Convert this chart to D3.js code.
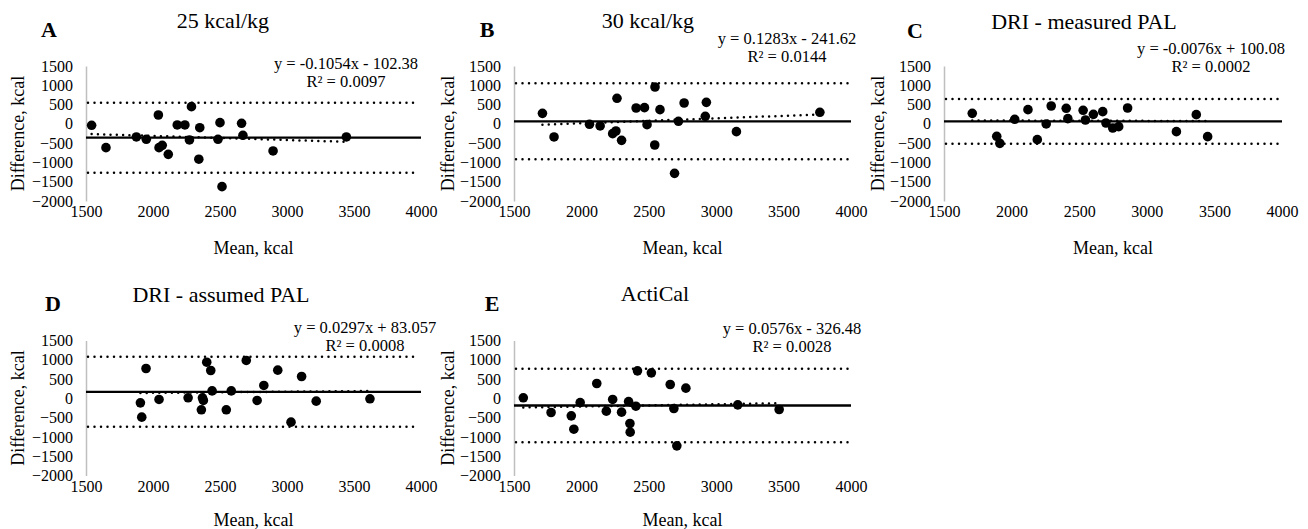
<!DOCTYPE html>
<html>
<head>
<meta charset="utf-8">
<script src="https://cdn.jsdelivr.net/npm/d3@7"></script>
<style>
  html, body { margin: 0; padding: 0; background: #fff; }
  svg { display: block; }
</style>
</head>
<body>
<svg id="chart" width="1308" height="529"></svg>
<script>
// ---------- DATA ----------
const panelLetters = ["A", "B", "C", "D", "E"];
const panelTitles = ["25 kcal/kg", "30 kcal/kg", "DRI - measured PAL", "DRI - assumed PAL", "ActiCal"];
const equations = ["y = -0.1054x - 102.38", "y = 0.1283x - 241.62", "y = -0.0076x + 100.08", "y = 0.0297x + 83.057", "y = 0.0576x - 326.48"];
const rSquared = ["R\u00B2 = 0.0097", "R\u00B2 = 0.0144", "R\u00B2 = 0.0002", "R\u00B2 = 0.0008", "R\u00B2 = 0.0028"];
const slopes = [-0.1054, 0.1283, -0.0076, 0.0297, 0.0576];
const intercepts = [-102.38, -241.62, 100.08, 83.057, -326.48];
const bias = [-358, 66, 66, 170, -185];
const upperLoA = [550, 1051, 645, 1077, 766];
const lowerLoA = [-1266, -919, -513, -737, -1135];

const xTicks = [1500, 2000, 2500, 3000, 3500, 4000];
const yTicks = [1500, 1000, 500, 0, -500, -1000, -1500, -2000];
const xLabel = "Mean, kcal";
const yLabel = "Difference, kcal";

const meanA = [1542, 1649, 1876, 1950, 2040, 2045, 2069, 2114, 2181, 2238, 2287, 2272, 2349, 2342, 2485, 2500, 2515, 2661, 2671, 2896, 3443];
const diffA = [-38, -617, -340, -401, 230, -617, -557, -790, -29, -29, 446, -418, -99, -917, -401, 31, -1628, 14, -297, -703, -340];

const meanB = [1711, 1797, 2060, 2139, 2232, 2256, 2264, 2298, 2406, 2468, 2487, 2544, 2546, 2583, 2691, 2720, 2762, 2919, 2927, 3150, 3769];
const diffB = [273, -340, -12, -55, -254, -185, 662, -427, 411, 420, -21, -548, 956, 368, -1283, 66, 541, 195, 558, -202, 299];

const meanC = [1709, 1890, 1913, 2023, 2121, 2190, 2256, 2293, 2404, 2416, 2529, 2546, 2605, 2674, 2698, 2748, 2792, 2858, 3219, 3366, 3450];
const diffC = [273, -323, -505, 118, 368, -410, -3, 463, 403, 135, 351, 100, 247, 316, 22, -107, -73, 411, -202, 239, -332];

const meanD = [1906, 1916, 1948, 2045, 2262, 2361, 2369, 2376, 2401, 2431, 2441, 2547, 2584, 2696, 2777, 2827, 2931, 3030, 3109, 3218, 3619];
const diffD = [-116, -487, 774, -29, 14, -297, 14, -55, 938, 722, 195, -297, 195, 982, -55, 334, 731, -617, 567, -73, -12];

const meanE = [1569, 1775, 1925, 1944, 1991, 2114, 2185, 2232, 2298, 2350, 2360, 2362, 2404, 2416, 2519, 2659, 2686, 2708, 2775, 3160, 3467];
const diffE = [14, -367, -453, -799, -108, 385, -332, -29, -358, -82, -652, -877, -203, 713, 661, 359, -263, -1231, 264, -168, -289];

const panelMeans = [meanA, meanB, meanC, meanD, meanE];
const panelDiffs = [diffA, diffB, diffC, diffD, diffE];

// ---------- LAYOUT ----------
const FONT = "Liberation Serif";
const layout = [
  { x0: 86,  x1: 421, yTop: 66,  titleX: 223, titleY: 28,  letterX: 49,  letterY: 37,  eqX: 346, eqY: 69,  ylabX: 18,  xlabY: 254 },
  { x0: 514, x1: 851, yTop: 66,  titleX: 648, titleY: 28,  letterX: 487, letterY: 37,  eqX: 787, eqY: 44,  ylabX: 448, xlabY: 254 },
  { x0: 944, x1: 1282, yTop: 66, titleX: 1084, titleY: 29, letterX: 915, letterY: 38,  eqX: 1211, eqY: 54, ylabX: 878, xlabY: 254 },
  { x0: 86,  x1: 421, yTop: 340.5, titleX: 221, titleY: 302, letterX: 53, letterY: 311, eqX: 365, eqY: 333, ylabX: 18, xlabY: 526 },
  { x0: 514, x1: 851, yTop: 340.5, titleX: 655, titleY: 301, letterX: 492, letterY: 311, eqX: 792, eqY: 334, ylabX: 448, xlabY: 526 }
];
const plotH = 135;

const svg = d3.select("#chart");

function styleText(sel, size, weight) {
  sel.attr("font-family", null)
     .style("font-family", FONT)
     .style("font-size", size + "px")
     .style("font-weight", weight || "normal")
     .style("fill", "#000");
  return sel;
}

panelLetters.forEach((letter, i) => {
  const L = layout[i];
  const g = svg.append("g");
  const x = d3.scaleLinear().domain([1500, 4000]).range([L.x0, L.x1]);
  const y = d3.scaleLinear().domain([-2000, 1500]).range([L.yTop + plotH, L.yTop]);

  // y axis
  const ya = g.append("g").attr("transform", `translate(${L.x0},0)`)
    .call(d3.axisLeft(y).tickValues(yTicks).tickSize(0).tickPadding(13).tickFormat(d3.format("d")));
  ya.attr("font-family", null).attr("font-size", null);
  ya.select(".domain").attr("stroke", "#bfbfbf").attr("stroke-width", 1.5);
  styleText(ya.selectAll("text"), 16);

  // x axis (no line)
  const xa = g.append("g").attr("transform", `translate(0,${y(-2000)})`)
    .call(d3.axisBottom(x).tickValues(xTicks).tickSize(0).tickPadding(5).tickFormat(d3.format("d")));
  xa.attr("font-family", null).attr("font-size", null);
  xa.select(".domain").remove();
  styleText(xa.selectAll("text"), 16);

  // limits of agreement (dotted)
  [upperLoA[i], lowerLoA[i]].forEach(v => {
    g.append("line")
      .attr("x1", x(1500) + 2).attr("x2", x(3985))
      .attr("y1", y(v)).attr("y2", y(v))
      .attr("stroke", "#000").attr("stroke-width", 2.5)
      .attr("stroke-linecap", "round").attr("stroke-dasharray", "0,6.5");
  });

  // bias (solid)
  g.append("line")
    .attr("x1", x(1500)).attr("x2", x(4000))
    .attr("y1", y(bias[i])).attr("y2", y(bias[i]))
    .attr("stroke", "#000").attr("stroke-width", 2.3);

  // trend line (dotted)
  const xs = panelMeans[i];
  const xmin = d3.min(xs), xmax = d3.max(xs);
  g.append("line")
    .attr("x1", x(xmin)).attr("x2", x(xmax))
    .attr("y1", y(slopes[i] * xmin + intercepts[i]))
    .attr("y2", y(slopes[i] * xmax + intercepts[i]))
    .attr("stroke", "#000").attr("stroke-width", 2.5)
    .attr("stroke-linecap", "round").attr("stroke-dasharray", "0,6.3");

  // points
  g.selectAll("circle.pt").data(xs.map((m, k) => [m, panelDiffs[i][k]]))
    .join("circle").attr("class", "pt")
    .attr("cx", d => x(d[0])).attr("cy", d => y(d[1]))
    .attr("r", 4.8).attr("fill", "#000");

  // titles
  styleText(g.append("text").attr("x", L.titleX).attr("y", L.titleY)
    .attr("text-anchor", "middle").text(panelTitles[i]), 22);
  styleText(g.append("text").attr("x", L.letterX).attr("y", L.letterY)
    .attr("text-anchor", "middle").text(letter), 22, "bold");

  // equation
  styleText(g.append("text").attr("x", L.eqX).attr("y", L.eqY)
    .attr("text-anchor", "middle").text(equations[i]), 16.5);
  styleText(g.append("text").attr("x", L.eqX).attr("y", L.eqY + 17.5)
    .attr("text-anchor", "middle").text(rSquared[i]), 16.5);

  // axis titles
  styleText(g.append("text").attr("x", (L.x0 + L.x1) / 2).attr("y", L.xlabY)
    .attr("text-anchor", "middle").text(xLabel), 18);
  styleText(g.append("text")
    .attr("transform", `translate(${L.ylabX},${L.yTop + plotH / 2}) rotate(-90)`)
    .attr("text-anchor", "middle").attr("dominant-baseline", "central")
    .text(yLabel), 18);
});
</script>
</body>
</html>
